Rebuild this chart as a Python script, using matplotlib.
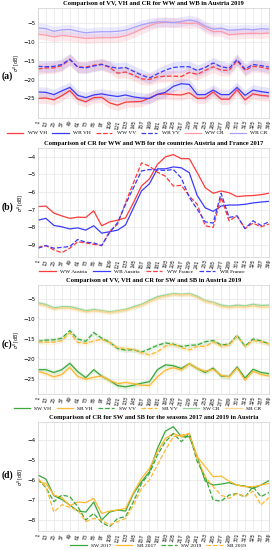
import numpy as np
import matplotlib
matplotlib.use('Agg')
import matplotlib.pyplot as plt

RED     = '#ff3b3b'
BLUE    = '#3b3bff'
PINK    = '#ff9aa8'
LILAC   = '#a8a0ff'
GREEN   = '#3aa83a'
ORANGE  = '#ffb830'
LGREEN  = '#9ad49a'
LORANGE = '#ffd48a'

serif = 'Liberation Serif'

doy = [1, 13, 25, 37, 49, 61, 73, 85, 97, 109, 121, 133, 145, 157, 169,
       181, 193, 205, 217, 229, 241, 253, 265, 277, 289, 301, 313, 325, 337, 349]

# (a) WW / WB Austria 2019
ww_vh_a = [-25.0, -24.9, -25.4, -24.3, -22.9, -25.2, -25.9, -24.8, -24.7, -26.2, -26.8, -26.0, -25.9, -25.8, -24.9,
           -24.0, -23.8, -24.0, -24.1, -23.5, -25.0, -24.9, -23.3, -25.2, -25.2, -22.7, -25.4, -23.8, -24.2, -24.4]
wb_vh_a = [-23.3, -23.4, -24.0, -23.0, -22.1, -24.2, -24.8, -24.1, -23.8, -24.2, -24.5, -24.1, -24.6, -24.9, -25.0,
           -23.9, -23.4, -21.8, -21.1, -21.3, -24.0, -24.0, -22.8, -24.0, -24.0, -22.1, -24.2, -22.8, -23.2, -23.5]
ww_vv_a = [-17.2, -16.9, -16.9, -16.3, -14.7, -16.7, -16.7, -16.2, -15.9, -16.8, -18.3, -18.0, -18.8, -19.8, -20.0,
           -19.3, -19.1, -19.1, -19.2, -18.1, -18.6, -17.6, -16.6, -17.5, -17.6, -15.0, -17.6, -16.5, -16.7, -17.2]
wb_vv_a = [-16.5, -16.6, -16.5, -16.0, -14.6, -16.7, -16.9, -16.4, -16.0, -16.6, -17.0, -16.8, -17.8, -18.8, -19.6,
           -18.5, -17.5, -16.8, -16.6, -16.6, -17.6, -16.8, -15.6, -16.6, -17.0, -14.7, -17.2, -16.0, -16.3, -16.7]
ww_cr_a = [-8.0, -8.2, -8.7, -8.3, -8.5, -8.8, -9.1, -9.0, -8.9, -8.9, -8.8, -8.4, -7.6, -6.6, -5.7,
           -5.0, -4.8, -4.8, -5.0, -5.1, -5.0, -6.3, -7.3, -7.2, -8.1, -7.9, -7.8, -7.7, -7.8, -7.6]
wb_cr_a = [-6.3, -6.5, -7.2, -6.8, -6.7, -7.2, -7.6, -7.4, -7.3, -7.3, -7.2, -6.9, -6.2, -5.5, -5.0,
           -4.7, -4.7, -4.9, -4.6, -4.2, -4.6, -5.8, -6.6, -6.4, -6.9, -6.8, -6.6, -6.8, -6.5, -6.6]

# (b) CR Austria / France 2017
ww_at_b = [-6.83, -6.8, -7.2, -7.36, -7.5, -7.43, -7.45, -7.07, -7.92, -7.7, -7.6, -7.47, -6.6, -5.66, -5.25,
           -4.43, -4.0, -3.87, -4.1, -4.1, -4.9, -5.75, -6.07, -5.94, -6.04, -6.26, -6.22, -6.2, -6.15, -6.07]
wb_at_b = [-7.6, -7.5, -7.9, -7.98, -8.1, -8.04, -8.17, -7.92, -8.34, -8.26, -8.17, -7.87, -6.9, -5.94, -5.53,
           -4.68, -4.68, -4.57, -4.62, -4.9, -6.2, -6.9, -7.1, -6.8, -6.74, -6.74, -6.7, -6.62, -6.57, -6.53]
ww_fr_b = [-9.15, -9.05, -9.3, -9.45, -9.2, -8.83, -8.9, -8.98, -9.05, -8.25, -7.83, -6.6, -5.47, -4.34, -4.53,
           -4.87, -5.1, -5.66, -5.62, -6.23, -6.7, -7.92, -8.02, -6.3, -7.64, -7.36, -8.08, -7.77, -7.98, -7.83]
wb_fr_b = [-9.2, -9.05, -9.2, -9.15, -9.1, -8.7, -8.86, -8.9, -9.05, -8.3, -7.74, -6.7, -5.75, -4.8, -4.72,
           -4.75, -4.77, -4.72, -5.2, -6.3, -6.98, -7.7, -7.77, -6.07, -7.45, -7.36, -8.08, -7.64, -7.9, -7.7]

# (c) SW / SB Austria 2019
sw_vh_c = [-22.6, -22.6, -23.3, -22.6, -21.0, -23.1, -24.6, -22.6, -24.2, -25.3, -26.6, -26.9, -26.5, -26.0, -25.6,
           -22.6, -21.4, -21.6, -22.3, -21.1, -22.3, -23.3, -22.2, -24.2, -24.3, -21.9, -24.7, -22.5, -23.3, -23.6]
sb_vh_c = [-23.0, -23.6, -24.4, -23.8, -22.0, -24.3, -25.0, -24.5, -24.2, -25.3, -26.1, -25.8, -26.1, -26.5, -26.6,
           -24.4, -22.7, -22.1, -22.7, -21.1, -22.3, -23.0, -22.5, -24.0, -24.4, -22.2, -25.2, -23.0, -23.8, -24.2]
sw_vv_c = [-15.5, -15.2, -15.1, -14.7, -12.8, -14.9, -15.5, -13.3, -14.7, -15.7, -17.3, -17.7, -17.6, -18.2, -17.4,
           -16.5, -15.9, -16.2, -16.8, -16.5, -16.4, -15.6, -15.3, -16.4, -16.2, -14.0, -16.7, -14.9, -15.4, -16.1]
sb_vv_c = [-15.6, -15.7, -15.7, -15.3, -13.3, -15.8, -16.0, -15.4, -15.0, -15.8, -17.1, -17.3, -17.5, -18.3, -18.9,
           -18.1, -16.7, -16.2, -17.0, -17.7, -16.7, -16.8, -15.6, -16.7, -16.4, -14.2, -16.8, -15.3, -15.6, -16.2]
sw_cr_c = [-5.8, -6.25, -7.1, -6.8, -6.8, -7.25, -7.8, -7.5, -7.8, -8.1, -7.8, -7.5, -6.8, -6.2, -5.2,
           -4.3, -3.9, -3.5, -3.7, -3.5, -4.2, -5.3, -5.7, -6.4, -6.7, -6.4, -6.6, -6.2, -6.5, -6.4]
sb_cr_c = [-6.1, -6.6, -7.4, -7.1, -7.2, -7.6, -8.1, -7.8, -8.0, -8.3, -8.0, -7.7, -7.1, -6.5, -5.6,
           -4.7, -4.2, -3.7, -3.9, -3.7, -4.5, -5.5, -5.9, -6.8, -7.0, -6.8, -6.9, -6.6, -6.9, -6.9]

# (d) CR SW / SB 2017 and 2019
sw_17_d = [-5.75, -5.95, -6.78, -6.97, -7.25, -7.55, -7.6, -7.1, -8.0, -7.6, -7.5, -7.55, -6.67, -6.08, -5.58,
           -4.42, -3.55, -3.33, -3.83, -3.83, -4.83, -6.05, -6.25, -6.2, -6.13, -6.25, -6.3, -6.42, -6.25, -6.03]
sb_17_d = [-6.08, -6.17, -6.75, -6.88, -7.28, -7.1, -7.13, -6.92, -7.67, -7.55, -7.5, -7.42, -6.62, -5.92, -5.42,
           -4.58, -3.92, -3.67, -3.83, -3.67, -4.83, -5.33, -5.83, -5.8, -6.05, -6.25, -6.33, -6.33, -6.25, -6.17]
sw_19_d = [-5.95, -6.38, -7.08, -6.75, -6.83, -7.33, -8.0, -7.67, -8.12, -8.33, -7.92, -7.83, -7.08, -6.17, -5.67,
           -4.75, -4.08, -3.67, -4.08, -3.67, -5.08, -5.83, -7.0, -7.05, -6.75, -6.67, -6.85, -6.33, -6.83, -6.62]
sb_19_d = [-5.92, -6.33, -7.6, -7.23, -7.37, -7.5, -8.08, -7.92, -8.0, -8.25, -8.08, -7.92, -7.25, -6.42, -6.0,
           -5.25, -4.5, -3.83, -3.75, -3.67, -4.92, -5.83, -6.33, -6.75, -6.92, -6.67, -6.83, -6.55, -7.25, -6.88]


def style_axes(ax, title, yticks, ylim):
    ax.set_xlim(doy[0], doy[-1])
    ax.set_ylim(*ylim)
    ax.set_xticks(doy)
    ax.set_xticklabels([str(d) for d in doy], rotation=80, fontsize=3.3)
    ax.set_yticks(yticks)
    ax.tick_params(axis='y', labelsize=4, length=0, pad=2)
    ax.tick_params(axis='x', length=0, pad=1.5)
    ax.grid(True, color='#e6e6e6', linewidth=0.5)
    ax.set_axisbelow(True)
    for s in ax.spines.values():
        s.set_color('#d0d0d0')
        s.set_linewidth(0.5)
    ax.set_title(title, fontsize=4.7, fontweight='bold', family=serif, pad=2.5)
    ax.set_ylabel(r'$\sigma^0$ [dB]', fontsize=3.3, labelpad=1.5)


def band(ax, y, colour, width, ls='-', lw=0.9, label='', alpha=0.13):
    y = np.array(y)
    ax.fill_between(doy, y - width, y + width, color=colour, alpha=alpha, linewidth=0)
    ax.plot(doy, y, color=colour, linestyle=ls, linewidth=lw, label=label)


def legend(ax, ncol, x, spacing):
    ax.legend(loc='upper center', bbox_to_anchor=(x, -0.115), ncol=ncol, frameon=False,
              prop={'family': serif, 'size': 3.9}, handlelength=3.0, columnspacing=spacing,
              handletextpad=0.8, borderaxespad=0, borderpad=0)


fig = plt.figure(figsize=(2.73, 5.50), dpi=100)

# (a)
ax = fig.add_axes([0.139, 0.7855, 0.846, 0.2])
band(ax, ww_vh_a, RED, 1.4, label='WW VH')
band(ax, wb_vh_a, BLUE, 1.4, label='WB VH')
band(ax, ww_vv_a, RED, 1.5, ls='--', label='WW VV')
band(ax, wb_vv_a, BLUE, 1.5, ls='--', label='WB VV')
band(ax, ww_cr_a, PINK, 1.3, label='WW CR', alpha=0.22)
band(ax, wb_cr_a, LILAC, 1.3, label='WB CR', alpha=0.22)
style_axes(ax, 'Comparison of VV, VH and CR for WW and WB in Austria 2019',
           [-5, -10, -15, -20, -25], (-30.2, -1))
legend(ax, 6, 0.43, 1.0)

# (b)
ax = fig.add_axes([0.139, 0.5327, 0.846, 0.198])
ax.plot(doy, ww_at_b, color=RED, linewidth=0.9, label='WW Austria')
ax.plot(doy, wb_at_b, color=BLUE, linewidth=0.9, label='WB Austria')
ax.plot(doy, ww_fr_b, color=RED, linewidth=0.9, linestyle='--', label='WW France')
ax.plot(doy, wb_fr_b, color=BLUE, linewidth=0.9, linestyle='--', label='WB France')
style_axes(ax, 'Comparison of CR for WW and WB for the countries Austria and France 2017',
           [-4, -5, -6, -7, -8, -9], (-9.7, -3.5))
legend(ax, 4, 0.45, 1.2)

# (c)
ax = fig.add_axes([0.139, 0.2836, 0.846, 0.198])
band(ax, sw_vh_c, GREEN, 0.6, label='SW VH')
band(ax, sb_vh_c, ORANGE, 0.6, label='SB VH')
band(ax, sw_vv_c, GREEN, 0.6, ls='--', label='SW VV')
band(ax, sb_vv_c, ORANGE, 0.6, ls='--', label='SB VV')
band(ax, sw_cr_c, LGREEN, 0.5, label='SW CR', alpha=0.25)
band(ax, sb_cr_c, LORANGE, 0.5, label='SB CR', alpha=0.25)
style_axes(ax, 'Comparison of VV, VH and CR for SW and SB in Austria 2019',
           [-5, -10, -15, -20, -25], (-28.7, -1.4))
legend(ax, 6, 0.43, 1.0)

# (d)
ax = fig.add_axes([0.139, 0.0345, 0.846, 0.198])
ax.plot(doy, sw_17_d, color=GREEN, linewidth=0.9, label='SW 2017')
ax.plot(doy, sb_17_d, color=ORANGE, linewidth=0.9, label='SB 2017')
ax.plot(doy, sw_19_d, color=GREEN, linewidth=0.9, linestyle='--', label='SW 2019')
ax.plot(doy, sb_19_d, color=ORANGE, linewidth=0.9, linestyle='--', label='SB 2019')
style_axes(ax, 'Comparison of CR for SW and SB for the seasons 2017 and 2019 in Austria',
           [-4, -5, -6, -7, -8], (-8.55, -3.1))
legend(ax, 4, 0.52, 0.9)

for lab, yc in [('(a)', 0.862), ('(b)', 0.624), ('(c)', 0.375), ('(d)', 0.136)]:
    fig.text(0.026, yc, lab, fontsize=7, fontweight='bold', family=serif, ha='center', va='center')

fig.savefig('out.png', dpi=100)
